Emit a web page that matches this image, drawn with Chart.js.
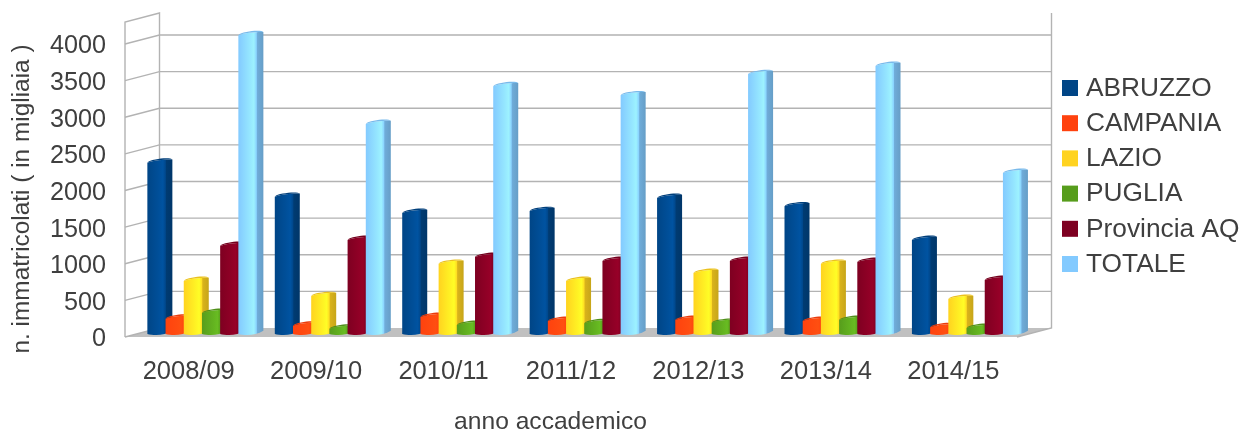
<!DOCTYPE html>
<html><head><meta charset="utf-8">
<style>html,body{margin:0;padding:0;background:#fff}canvas{display:block}#w{width:1244px;height:432px}</style>
<script src="https://cdn.jsdelivr.net/npm/chart.js@4"></script>
</head><body><div id="w"><canvas id="c" width="1244" height="432"></canvas></div>
<script>
const categories = ['2008/09','2009/10','2010/11','2011/12','2012/13','2013/14','2014/15'];
const abruzzo   = [2345,1880,1660,1685,1865,1750,1290];
const campania  = [215,120,240,185,200,185,100];
const lazio     = [730,525,965,730,840,965,485];
const puglia    = [295,80,130,155,160,200,90];
const provincia = [1210,1290,1060,1005,1005,990,745];
const totale    = [4085,2875,3390,3265,3555,3665,2205];
const seriesNames = ['ABRUZZO','CAMPANIA','LAZIO','PUGLIA','Provincia AQ','TOTALE'];
const seriesValues = [abruzzo,campania,lazio,puglia,provincia,totale];
const colors = ['#004586','#ff420e','#ffd320','#579d1c','#7e0021','#83caff'];
const yTicks = [0,500,1000,1500,2000,2500,3000,3500,4000];
const xTitle = 'anno accademico';
const yTitle = 'n. immatricolati ( in migliaia )';

const FONT = '"Liberation Sans", Arial, sans-serif';
const TEXT = '#3f3f3f';
const DX = 34.5, DY = -9;          // depth of the 3D box
const GRID = '#b3b3b3';

function shade(hex,f){
  const n=parseInt(hex.slice(1),16);
  const c=[n>>16&255,n>>8&255,n&255].map(v=>Math.max(0,Math.min(255,Math.round(v*f))));
  return `rgb(${c[0]},${c[1]},${c[2]})`;
}

const box3d = {
  id:'box3d',
  beforeDatasetsDraw(chart){
    const {ctx,chartArea:a,scales:{y}} = chart;
    ctx.save();
    // floor
    ctx.fillStyle='#c0c0c0';
    ctx.beginPath();
    ctx.moveTo(a.left,a.bottom);ctx.lineTo(a.right,a.bottom);
    ctx.lineTo(a.right+DX,a.bottom+DY);ctx.lineTo(a.left+DX,a.bottom+DY);
    ctx.closePath();ctx.fill();
    ctx.strokeStyle=GRID;ctx.lineWidth=1.4;
    // gridlines on the side and back wall
    y.ticks.forEach(t=>{
      const py=y.getPixelForValue(t.value);
      if(t.value===0) return;
      ctx.beginPath();
      ctx.moveTo(a.left,py);ctx.lineTo(a.left+DX,py+DY);ctx.lineTo(a.right+DX,py+DY);
      ctx.stroke();
    });
    ctx.beginPath();
    ctx.moveTo(a.left,a.bottom);ctx.lineTo(a.left,a.top);ctx.lineTo(a.left+DX,a.top+DY);
    ctx.lineTo(a.left+DX,a.bottom+DY);ctx.lineTo(a.left,a.bottom);
    ctx.moveTo(a.right,a.bottom);ctx.lineTo(a.right+DX,a.bottom+DY);ctx.lineTo(a.right+DX,a.top+DY);
    ctx.stroke();
    // cylinders, first series at the back
    ctx.translate(DX/2-0.6,DY/2);
    chart.getSortedVisibleDatasetMetas().forEach((meta,i)=>{
      const col=colors[i];
      meta.data.forEach(el=>{
        const {x,y:top,base,width:w}=el.getProps(['x','y','base','width'],true);
        const x0=x-w/2,x1=x+w/2,tilt=2;
        const gr=ctx.createLinearGradient(x0,0,x1,0);
        gr.addColorStop(0,col);
        gr.addColorStop(0.45,shade(col,1.14));
        gr.addColorStop(0.62,shade(col,1.2));
        gr.addColorStop(0.72,shade(col,1.05));
        gr.addColorStop(0.76,shade(col,0.85));
        gr.addColorStop(1,shade(col,0.78));
        ctx.fillStyle=gr;
        ctx.beginPath();
        ctx.moveTo(x0,top+tilt);
        ctx.lineTo(x0,base+1.4);
        ctx.bezierCurveTo(x0+6,base+2.8,x1-8,base+3.4,x1,base-1.8);
        ctx.lineTo(x1,top-tilt+0.8);
        ctx.bezierCurveTo(x1-8,top-tilt+0.6,x0+6,top-0.2,x0,top+tilt);
        ctx.closePath();ctx.fill();
        // cap
        ctx.fillStyle=shade(col,0.92);
        ctx.beginPath();
        ctx.moveTo(x0,top+tilt);
        ctx.bezierCurveTo(x0+6,top-0.2,x1-8,top-tilt+0.6,x1,top-tilt+0.8);
        ctx.bezierCurveTo(x1-1,top-tilt-0.8,x1-10,top-tilt-0.8,x0+8,top-tilt+0.8);
        ctx.quadraticCurveTo(x0+2,top-0.4,x0,top+tilt);
        ctx.closePath();ctx.fill();
      });
    });
    ctx.restore();
    return false;
  },
  afterDraw(chart){
    const {ctx}=chart;
    ctx.save();
    ctx.fillStyle=TEXT;
    ctx.textBaseline='middle';
    // legend
    ctx.font='26.3px '+FONT;
    ctx.textAlign='left';
    seriesNames.forEach((n,i)=>{
      const yy=88+i*35.2;
      ctx.fillStyle=colors[i];
      ctx.fillRect(1062,yy-8,16,16);
      ctx.fillStyle=TEXT;
      ctx.fillText(n,1086,yy+0.5);
    });
    // axis titles
    ctx.font='24.6px '+FONT;
    ctx.textAlign='center';
    ctx.fillText(xTitle,550.5,422.5);
    ctx.font='24.4px '+FONT;
    ctx.translate(22,199);
    ctx.rotate(-Math.PI/2);
    ctx.fillText(yTitle,0,0);
    ctx.restore();
  }
};

new Chart(document.getElementById('c'),{
  type:'bar',
  data:{
    labels:categories,
    datasets:seriesNames.map((n,i)=>({label:n,data:seriesValues[i],backgroundColor:colors[i],
      categoryPercentage:0.857,barPercentage:1.374}))
  },
  plugins:[box3d],
  options:{
    responsive:false,animation:false,
    layout:{padding:{top:22,right:227,left:0,bottom:0}},
    plugins:{legend:{display:false},title:{display:false},tooltip:{enabled:false}},
    scales:{
      x:{grid:{display:false,drawTicks:false},border:{display:false},
         afterFit(s){s.height=95;s.paddingLeft=0;s.paddingRight=0;},
         ticks:{padding:20,color:TEXT,maxRotation:0,autoSkip:false,font:{family:FONT,size:25.5}}},
      y:{min:0,max:4300,grid:{display:false,drawTicks:false},border:{display:false},
         afterBuildTicks(s){s.ticks=yTicks.map(v=>({value:v}));},
         afterFit(s){s.width=125;s.paddingTop=0;s.paddingBottom=0;},
         ticks:{callback:v=>String(v),padding:19,labelOffset:2.5,color:TEXT,font:{family:FONT,size:25.2}}}
    }
  }
});
</script></body></html>
